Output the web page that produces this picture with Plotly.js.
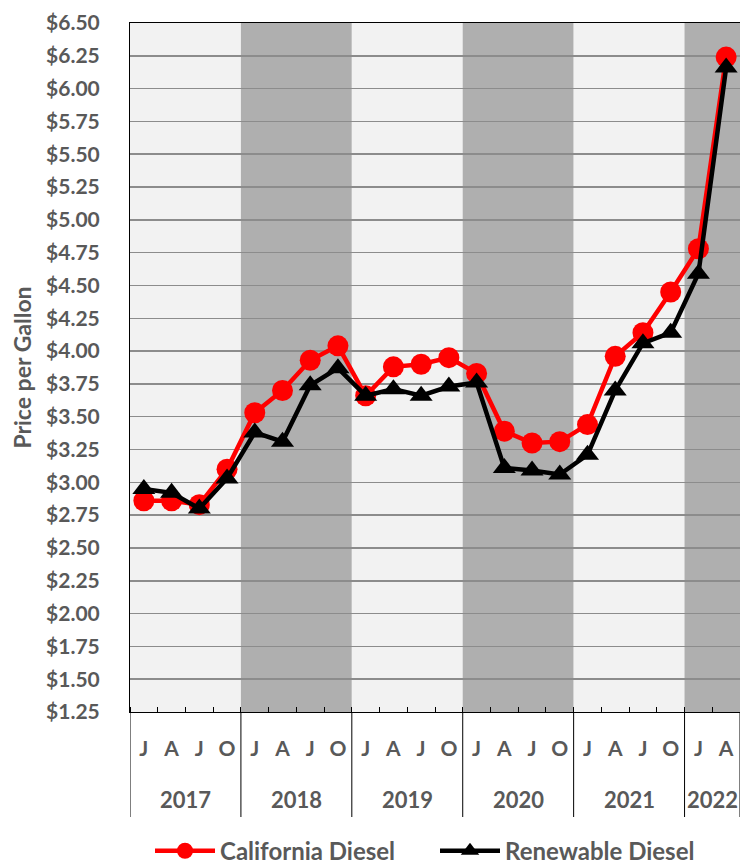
<!DOCTYPE html>
<html>
<head>
<meta charset="utf-8">
<script src="https://cdn.plot.ly/plotly-3.0.1.min.js"></script>
<style>
html,body{margin:0;padding:0;background:#fff;overflow:hidden;}
#chart{width:740px;height:865px;}
</style>
</head>
<body>
<div id="chart"></div>
<script>
// Data
const periodYear = ['2017','2017','2017','2017','2018','2018','2018','2018','2019','2019','2019','2019','2020','2020','2020','2020','2021','2021','2021','2021','2022','2022'];
const periodQuarter = ['J','A','J','O','J','A','J','O','J','A','J','O','J','A','J','O','J','A','J','O','J','A'];
const californiaDiesel = [2.86,2.86,2.83,3.10,3.53,3.70,3.93,4.04,3.66,3.88,3.90,3.95,3.83,3.39,3.30,3.31,3.44,3.96,4.14,4.45,4.78,6.24];
const renewableDiesel = [2.95,2.92,2.80,3.03,3.38,3.31,3.74,3.87,3.66,3.71,3.66,3.73,3.76,3.11,3.09,3.06,3.21,3.70,4.06,4.14,4.59,6.16];
const yearNames = ['2017','2018','2019','2020','2021','2022'];

const FONT = 'Lato, "Open Sans", sans-serif';
const GRAY = '#595959';

const idxs = periodYear.map((_, i) => i);

// year bands, year labels and dividers, built from the year array
const shapes = [];
const annotations = [];
yearNames.forEach((yr, k) => {
  const idx = idxs.filter(i => periodYear[i] === yr);
  const first = idx[0], last = idx[idx.length-1];
  const isLast = (k === yearNames.length-1);
  shapes.push({type:'rect', xref:'x', yref:'paper', x0:first-0.5, x1: isLast ? last+1.5 : last+0.5, y0:0, y1:1,
    fillcolor: k%2===0 ? '#f2f2f2' : '#afafaf', line:{width:0}, layer:'below'});
  shapes.push({type:'line', xref:'x', yref:'paper', x0:first-0.5, x1:first-0.5, y0:0, y1:-0.1524,
    line:{color:'#000', width:1}});
  if (isLast) {
    shapes.push({type:'line', xref:'x', yref:'paper', x0:last+0.5, x1:last+0.5, y0:0, y1:-0.1524,
      line:{color:'#000', width:1}});
  }
  annotations.push({xref:'x', yref:'paper', x:(first+last)/2, y:-0.1277, yanchor:'middle', xanchor:'center',
    text: yr, showarrow:false, font:{family:FONT, size:22, color:GRAY, weight:'bold'}});
});

const traces = [
  {x: idxs, y: californiaDiesel, name:'California Diesel', type:'scatter', mode:'lines+markers',
   line:{color:'#ff0000', width:4.5}, marker:{symbol:'circle', size:21, color:'#ff0000'}},
  {x: idxs, y: renewableDiesel, name:'Renewable Diesel', type:'scatter', mode:'lines+markers',
   line:{color:'#000000', width:4.5}, marker:{symbol:'triangle-up', size:20, color:'#000000'}}
];

const layout = {
  width:740, height:865,
  margin:{l:130, r:0, t:23, b:153},
  paper_bgcolor:'#ffffff', plot_bgcolor:'#f2f2f2',
  font:{family:FONT, color:GRAY, size:20},
  showlegend:true,
  legend:{orientation:'h', x:0.5, xanchor:'center', yref:'container', y:0.016, yanchor:'middle',
    font:{family:FONT, size:24, color:GRAY, weight:'bold'}, itemwidth:60, traceorder:'normal',
    entrywidth:210, entrywidthmode:'pixels'},
  xaxis:{type:'linear', range:[-0.5,21.5], showgrid:false, zeroline:false, automargin:false,
    showline:true, linecolor:'#000', linewidth:1, mirror:true,
    tickmode:'array', tickvals: idxs, ticktext: periodQuarter, ticks:'', ticklabelstandoff:18,
    minor:{tickmode:'linear', tick0:-0.5, dtick:1, ticks:'inside', ticklen:5, tickcolor:'#000', tickwidth:1, showgrid:false},
    tickfont:{family:FONT, size:21, color:GRAY, weight:'bold'}},
  yaxis:{range:[1.25,6.5], dtick:0.25, tick0:1.25, tickprefix:'$', tickformat:'.2f', automargin:false,
    showgrid:true, gridcolor:'#8c8c8c', gridwidth:1.5, zeroline:false,
    showline:true, linecolor:'#000', linewidth:1, ticks:'', ticklabelstandoff:25,
    tickfont:{family:FONT, size:21, color:GRAY, weight:'bold'},
    title:{text:'Price per Gallon', font:{family:FONT, size:23, color:GRAY, weight:'bold'}, standoff:8}},
  shapes: shapes,
  annotations: annotations
};

Plotly.newPlot('chart', traces, layout, {displayModeBar:false, staticPlot:true});
</script>
</body>
</html>
